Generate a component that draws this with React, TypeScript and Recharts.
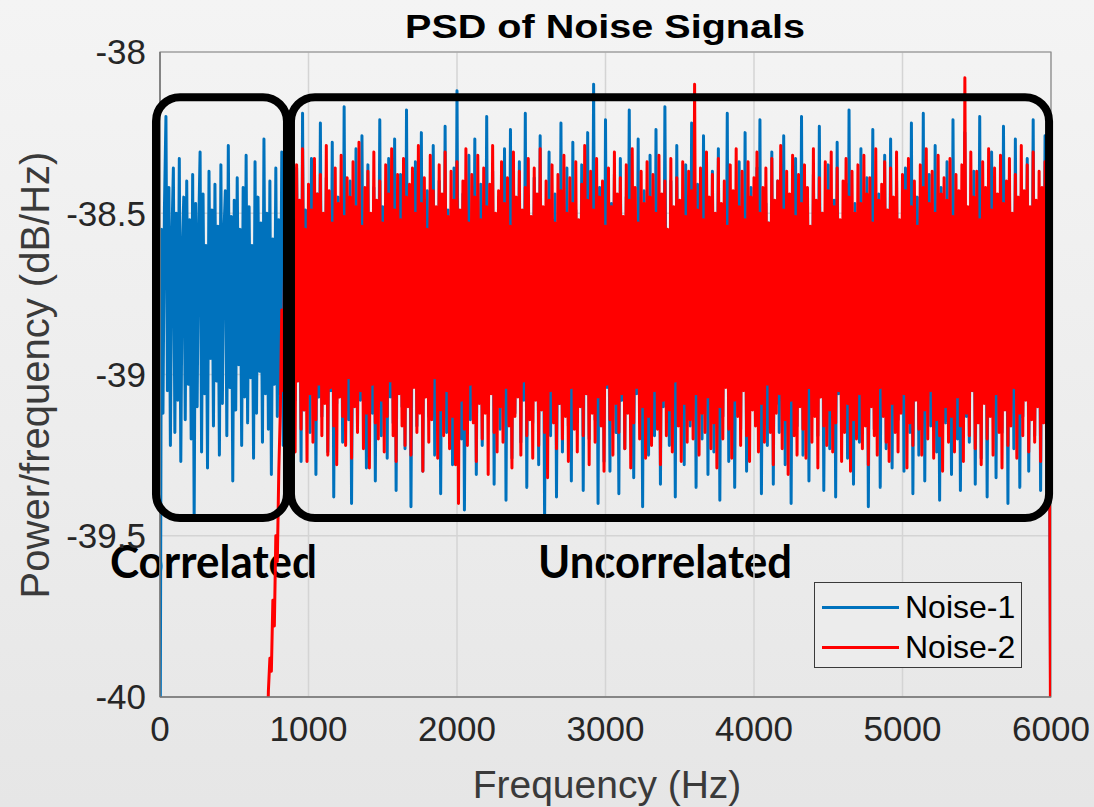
import React from 'react';
import { LineChart, Line, XAxis, YAxis, CartesianGrid, ReferenceArea, Legend } from 'recharts';

// ---- data ----
const xTicks = [0, 1000, 2000, 3000, 4000, 5000, 6000];
const yTicks = [-40, -39.5, -39, -38.5, -38];

const noise1StartHz = 0;
const noise1StepHz = 10;
const noise1Values = [
  -40.40, -38.55, -39.12, -38.48, -38.20, -39.05, -38.42, -39.22, -38.58, -38.36, -39.18, -38.50, -39.08, -38.33, -39.27, -38.62, -38.45, -39.14, -38.40, -39.03,
  -38.52, -39.20, -38.38, -39.45, -38.47, -39.10, -38.56, -38.31, -39.24, -38.44, -39.06, -38.60, -39.29, -38.37, -38.95, -38.49, -39.16, -38.41, -39.02, -38.54,
  -39.25, -38.35, -39.09, -38.57, -38.43, -39.19, -38.29, -39.04, -38.51, -39.33, -38.46, -39.11, -38.39, -38.97, -38.55, -39.22, -38.42, -39.07, -38.32, -39.15,
  -38.48, -39.01, -38.60, -39.26, -38.34, -39.12, -38.45, -38.99, -38.53, -39.21, -38.27, -39.06, -38.50, -39.17, -38.40, -39.31, -38.58, -39.03, -38.36, -39.13,
  -38.52, -39.06, -38.31, -39.22, -38.58, -39.03, -38.24, -39.15, -38.47, -39.35, -38.60, -39.08, -38.36, -39.01, -38.55, -39.27, -38.19, -39.11, -38.49, -39.04,
  -38.57, -39.18, -38.33, -39.02, -38.61, -39.31, -38.44, -39.07, -38.22, -39.13, -38.54, -39.00, -38.39, -39.24, -38.59, -39.05, -38.28, -39.38, -38.50, -39.09,
  -38.45, -39.03, -38.56, -39.21, -38.17, -39.06, -38.53, -39.14, -38.40, -39.40, -38.62, -39.02, -38.30, -39.17, -38.51, -39.08, -38.26, -39.01, -38.58, -39.29,
  -38.35, -39.05, -38.55, -39.12, -38.42, -39.33, -38.60, -39.04, -38.21, -39.19, -38.48, -39.02, -38.57, -39.26, -38.33, -39.07, -38.52, -39.15, -38.27, -39.36,
  -38.59, -39.03, -38.38, -39.10, -38.54, -39.23, -38.18, -39.06, -38.46, -39.41, -38.61, -39.01, -38.34, -39.16, -38.56, -39.08, -38.25, -39.30, -38.50, -39.04,
  -38.43, -39.13, -38.58, -39.02, -38.29, -39.25, -38.53, -39.07, -38.40, -39.37, -38.62, -39.05, -38.23, -39.18, -38.49, -39.01, -38.57, -39.28, -38.36, -39.09,
  -38.12, -39.04, -38.55, -39.20, -38.44, -39.42, -38.60, -39.06, -38.32, -39.14, -38.52, -39.02, -38.27, -39.31, -38.58, -39.08, -38.41, -39.22, -38.54, -39.03,
  -38.20, -39.11, -38.59, -39.05, -38.37, -39.34, -38.51, -39.02, -38.45, -39.17, -38.61, -39.07, -38.30, -39.39, -38.56, -39.04, -38.24, -39.26, -38.48, -39.12,
  -38.57, -39.02, -38.34, -39.21, -38.53, -39.08, -38.19, -39.35, -38.46, -39.03, -38.60, -39.15, -38.39, -39.06, -38.55, -39.28, -38.26, -39.01, -38.55, -39.45,
  -38.58, -39.05, -38.31, -39.19, -38.52, -39.02, -38.44, -39.38, -38.61, -39.09, -38.22, -39.24, -38.54, -39.04, -38.36, -39.16, -38.57, -39.33, -38.28, -39.07,
  -38.49, -39.12, -38.60, -39.03, -38.35, -39.36, -38.56, -39.06, -38.25, -39.20, -38.53, -39.01, -38.10, -39.14, -38.58, -39.40, -38.42, -39.05, -38.55, -39.27,
  -38.21, -39.04, -38.59, -39.30, -38.47, -39.02, -38.38, -39.18, -38.62, -39.37, -38.33, -39.08, -38.54, -39.23, -38.45, -39.01, -38.18, -39.13, -38.57, -39.32,
  -38.52, -39.06, -38.27, -39.15, -38.60, -39.41, -38.43, -39.03, -38.55, -39.25, -38.32, -39.07, -38.58, -39.19, -38.24, -39.02, -38.50, -39.34, -38.61, -39.10,
  -38.17, -39.03, -38.56, -39.22, -38.40, -39.05, -38.53, -39.38, -38.29, -39.12, -38.59, -39.01, -38.46, -39.28, -38.35, -39.06, -38.62, -39.16, -38.22, -39.04,
  -38.55, -39.35, -38.41, -39.07, -38.58, -39.20, -38.26, -39.02, -38.51, -39.31, -38.60, -39.09, -38.37, -39.24, -38.56, -39.04, -38.30, -39.39, -38.53, -39.13,
  -38.48, -39.02, -38.19, -39.27, -38.57, -39.08, -38.44, -39.35, -38.61, -39.05, -38.34, -39.17, -38.54, -39.01, -38.25, -39.30, -38.59, -39.11, -38.42, -39.06,
  -38.56, -39.14, -38.36, -39.03, -38.21, -39.37, -38.60, -39.07, -38.47, -39.22, -38.53, -39.02, -38.31, -39.34, -38.58, -39.09, -38.40, -39.18, -38.55, -39.04,
  -38.26, -39.28, -38.59, -39.05, -38.45, -39.40, -38.52, -39.01, -38.33, -39.16, -38.61, -39.08, -38.20, -39.25, -38.54, -39.03, -38.43, -39.33, -38.57, -39.12,
  -38.38, -39.04, -38.55, -39.19, -38.23, -39.02, -38.50, -39.36, -38.62, -39.07, -38.35, -39.23, -38.57, -39.01, -38.46, -39.38, -38.28, -39.06, -38.59, -39.15,
  -38.52, -39.03, -38.41, -39.26, -38.18, -39.09, -38.58, -39.34, -38.47, -39.02, -38.60, -39.21, -38.30, -39.05, -38.55, -39.13, -38.39, -39.41, -38.62, -39.04,
  -38.24, -39.17, -38.56, -39.02, -38.44, -39.35, -38.59, -39.06, -38.32, -39.23, -38.53, -39.01, -38.27, -39.29, -38.61, -39.08, -38.40, -39.14, -38.54, -39.03,
  -38.58, -39.30, -38.36, -39.05, -38.51, -39.18, -38.22, -39.37, -38.57, -39.02, -38.45, -39.25, -38.60, -39.07, -38.19, -39.33, -38.53, -39.04, -38.38, -39.16,
  -38.55, -39.03, -38.29, -39.24, -38.60, -39.39, -38.42, -39.06, -38.57, -39.15, -38.34, -39.01, -38.52, -39.31, -38.21, -39.08, -38.59, -39.20, -38.46, -39.36,
  -38.54, -39.02, -38.25, -39.13, -38.61, -39.21, -38.48, -39.05, -38.37, -39.34, -38.56, -39.09, -38.20, -39.26, -38.58, -39.03, -38.43, -39.38, -38.55, -39.11,
  -38.31, -39.04, -38.57, -39.32, -38.46, -39.07, -38.60, -39.18, -38.23, -39.02, -38.52, -39.40, -38.39, -39.06, -38.58, -39.23, -38.27, -39.05, -38.55, -39.35,
  -38.44, -39.13, -38.59, -39.03, -38.33, -39.30, -38.56, -39.08, -38.21, -39.19, -38.61, -39.02, -38.47, -39.36, -38.53, -39.10, -38.26, -39.05, -38.58, -39.24,
  -40.30,
];

const noise2StartHz = 700;
const noise2StepHz = 10;
const noise2Values = [
  -41.20, -40.60, -40.20, -39.98, -39.88, -39.92, -39.70, -39.78, -39.50, -39.58, -39.30, -39.12, -38.80, -39.05, -38.62, -39.15, -38.48, -39.20, -38.40,
  -39.08, -38.52, -39.24, -38.35, -39.02, -38.46, -39.17, -38.30, -39.11, -38.55, -39.27, -38.41, -39.06, -38.49, -39.21, -38.33, -39.14, -38.44, -39.03, -38.38,
  -39.19, -38.50, -39.09, -38.29, -39.25, -38.43, -39.04, -38.53, -39.16, -38.36, -39.28, -38.47, -39.07, -38.32, -39.13, -38.51, -39.22, -38.39, -39.01, -38.45,
  -39.26, -38.34, -39.10, -38.48, -39.18, -38.28, -39.05, -38.54, -39.23, -38.42, -39.12, -38.37, -39.29, -38.50, -39.03, -38.31, -39.15, -38.46, -39.20, -38.40,
  -39.08, -38.53, -39.24, -38.35, -39.13, -38.44, -39.02, -38.30, -39.19, -38.49, -39.27, -38.38, -39.06, -38.52, -39.16, -38.33, -39.22, -38.45, -39.10, -38.41,
  -39.25, -38.36, -39.04, -38.50, -39.18, -38.29, -39.12, -38.47, -39.30, -38.39, -39.07, -38.55, -39.21, -38.32, -39.14, -38.43, -39.01, -38.48, -39.26, -38.35,
  -39.11, -38.44, -39.19, -38.31, -39.05, -38.51, -39.23, -38.37, -39.13, -38.46, -39.28, -38.34, -39.40, -38.49, -39.08, -38.40, -39.17, -38.30, -39.22, -38.53,
  -39.03, -38.38, -39.15, -38.45, -39.27, -38.32, -39.09, -38.52, -39.20, -38.36, -39.12, -38.48, -39.31, -38.41, -39.06, -38.29, -39.18, -38.50, -39.24, -38.43,
  -39.10, -38.34, -39.21, -38.47, -39.04, -38.39, -39.16, -38.54, -39.29, -38.31, -39.13, -38.45, -39.07, -38.37, -39.25, -38.49, -39.02, -38.42, -39.19, -38.33,
  -39.14, -38.51, -39.26, -38.36, -39.08, -38.44, -39.22, -38.30, -39.11, -38.48, -39.18, -38.40, -39.32, -38.46, -39.05, -38.35, -39.15, -38.53, -39.23, -38.38,
  -39.09, -38.43, -39.20, -38.32, -39.13, -38.50, -39.27, -38.39, -39.04, -38.47, -39.17, -38.34, -39.24, -38.52, -39.10, -38.41, -39.19, -38.29, -39.06, -38.46,
  -39.28, -38.37, -39.12, -38.49, -39.21, -38.33, -39.07, -38.45, -39.16, -38.40, -39.30, -38.54, -39.03, -38.36, -39.14, -38.48, -39.25, -38.31, -39.09, -38.44,
  -39.18, -38.39, -39.06, -38.51, -39.23, -38.35, -39.12, -38.46, -39.29, -38.30, -39.15, -38.42, -39.04, -38.53, -39.20, -38.37, -39.10, -38.47, -39.26, -38.34,
  -39.13, -38.45, -39.22, -38.38, -39.05, -38.50, -39.17, -38.32, -39.28, -38.44, -39.08, -38.40, -39.19, -38.55, -39.11, -38.33, -39.24, -38.48, -39.02, -38.39,
  -39.16, -38.46, -39.27, -38.34, -39.09, -38.51, -39.21, -38.37, -39.14, -38.43, -39.20, -38.10, -39.06, -38.49, -39.25, -38.36, -39.12, -38.52, -39.18, -38.31, -39.07,
  -38.45, -39.23, -38.38, -39.15, -38.50, -39.29, -38.33, -39.10, -38.47, -39.20, -38.40, -39.04, -38.54, -39.17, -38.35, -39.26, -38.43, -39.08, -38.30, -39.13,
  -38.48, -39.22, -38.37, -39.05, -38.52, -39.19, -38.34, -39.27, -38.45, -39.11, -38.39, -39.16, -38.31, -39.24, -38.50, -39.09, -38.42, -39.21, -38.36, -39.03,
  -38.53, -39.18, -38.33, -39.28, -38.46, -39.12, -38.40, -39.06, -38.29, -39.23, -38.49, -39.14, -38.37, -39.31, -38.44, -39.08, -38.32, -39.19, -38.51, -39.25,
  -38.38, -39.10, -38.47, -39.17, -38.35, -39.26, -38.42, -39.04, -38.54, -39.21, -38.30, -39.13, -38.46, -39.29, -38.39, -39.07, -38.50, -39.16, -38.34, -39.22,
  -38.43, -39.11, -38.31, -39.24, -38.48, -39.15, -38.36, -39.05, -38.52, -39.27, -38.40, -39.18, -38.33, -39.09, -38.45, -39.30, -38.37, -39.14, -38.50, -39.20,
  -38.35, -39.06, -38.47, -39.23, -38.32, -39.16, -38.44, -39.28, -38.39, -39.10, -38.53, -39.19, -38.30, -39.25, -38.46, -39.04, -38.41, -39.13, -38.34, -39.21,
  -38.49, -39.27, -38.36, -39.09, -38.45, -39.18, -38.31, -39.24, -38.52, -39.12, -38.38, -39.06, -38.43, -39.29, -38.33, -39.15, -38.48, -39.22, -38.40, -39.08,
  -38.54, -39.17, -38.35, -39.25, -38.42, -39.11, -38.30, -39.20, -38.47, -39.05, -38.37, -39.26, -38.50, -39.14, -38.32, -39.19, -38.44, -39.30, -38.39, -39.10,
  -38.46, -39.21, -38.33, -39.13, -38.51, -39.24, -38.38, -39.07, -38.43, -39.16, -38.35, -39.27, -38.08, -39.12, -38.48, -39.19, -38.31, -39.05, -38.45, -39.23,
  -38.37, -39.15, -38.52, -39.28, -38.34, -39.09, -38.42, -39.20, -38.30, -39.13, -38.49, -39.25, -38.36, -39.06, -38.44, -39.18, -38.32, -39.29, -38.47, -39.11,
  -38.40, -39.22, -38.33, -39.16, -38.50, -39.04, -38.38, -39.26, -38.45, -39.12, -38.29, -39.19, -38.43, -39.08, -38.35, -39.24, -38.48, -39.14, -38.31, -39.21,
  -38.46, -39.10, -38.37, -39.27, -38.42, -39.15, -38.34, -39.20, -38.49, -39.12, -40.60,
];

const seriesNames = ['Noise-1', 'Noise-2'];
const seriesColors = ['#0072BD', '#FF0000'];

// annotation boxes in data coordinates
const boxCorrelated = { x1: -27, x2: 855, y1: -39.445, y2: -38.14 };
const boxUncorrelated = { x1: 882, x2: 5987, y1: -39.445, y2: -38.14 };

const noise1Data = noise1Values.map((v, i) => ({ f: noise1StartHz + i * noise1StepHz, v }));
const noise2Data = noise2Values.map((v, i) => ({ f: noise2StartHz + i * noise2StepHz, v }));

const FONT = "'Liberation Sans', Arial, Helvetica, sans-serif";

const RoundedBox = (props: any) => {
  const { x, y, width, height } = props;
  return (
    <rect x={x} y={y} width={width} height={height} rx={24} ry={24} fill="none" stroke="#000" strokeWidth={8} />
  );
};

const LegendBox = () => (
  <div
    style={{
      width: 208,
      height: 86,
      border: '1px solid #3a3a3a',
      background: '#ececec',
      boxSizing: 'border-box',
      fontFamily: FONT,
      fontSize: 32,
      color: '#000',
      paddingTop: 4,
    }}
  >
    {seriesNames.map((n, i) => (
      <div key={n} style={{ display: 'flex', alignItems: 'center', height: 40 }}>
        <div style={{ width: 77, height: 3, background: seriesColors[i], marginLeft: 7, marginRight: 6 }} />
        <span>{n}</span>
      </div>
    ))}
  </div>
);

export default function App() {
  return (
    <div
      style={{
        position: 'fixed',
        left: 0,
        top: 0,
        width: 1094,
        height: 807,
        overflow: 'hidden',
        background: 'linear-gradient(180deg, #f4f4f4 0%, #ececec 60%, #e6e6e6 100%)',
      }}
    >
      <svg width={1094} height={807} style={{ position: 'absolute', left: 0, top: 0 }}>
        <text x={605} y={38} textAnchor="middle" fontFamily={FONT} fontWeight="bold" fontSize={34} fill="#000" textLength={400} lengthAdjust="spacingAndGlyphs">
          PSD of Noise Signals
        </text>
        <text x={607} y={798} textAnchor="middle" fontFamily={FONT} fontSize={39} fill="#3a3a3a">
          Frequency (Hz)
        </text>
        <text transform="translate(49,375) rotate(-90)" textAnchor="middle" fontFamily={FONT} fontSize={40} fill="#3a3a3a">
          Power/frequency (dB/Hz)
        </text>
        <text x={110} y={578} fontFamily="Lato, 'Open Sans', sans-serif" fontWeight="bold" fontSize={46} fill="#000" textLength={207} lengthAdjust="spacingAndGlyphs">
          Correlated
        </text>
        <text x={538} y={578} fontFamily="Lato, 'Open Sans', sans-serif" fontWeight="bold" fontSize={46} fill="#000" textLength={254} lengthAdjust="spacingAndGlyphs">
          Uncorrelated
        </text>
      </svg>
      <div style={{ position: 'absolute', left: 0, top: 0 }}>
        <LineChart width={1094} height={807} margin={{ top: 52, right: 43, bottom: 0, left: 0 }}>
          <CartesianGrid stroke="#d4d4d4" strokeWidth={1.5} />
          <ReferenceArea x1={0} x2={6000} y1={-40} y2={-38} fill="none" stroke="#8c8c8c" strokeWidth={1.2} ifOverflow="visible" />
          <XAxis
            dataKey="f"
            type="number"
            domain={[0, 6000]}
            ticks={xTicks}
            allowDataOverflow
            height={110}
            tickLine={false}
            tickMargin={13}
            axisLine={{ stroke: '#777', strokeWidth: 1.5 }}
            tick={{ fill: '#262626', fontSize: 35, fontFamily: FONT }}
          />
          <YAxis
            type="number"
            domain={[-40, -38]}
            ticks={yTicks}
            allowDataOverflow
            width={160}
            tickLine={false}
            tickMargin={8}
            axisLine={{ stroke: '#777', strokeWidth: 1.5 }}
            tick={{ fill: '#262626', fontSize: 35, fontFamily: FONT }}
          />
          <Line
            data={noise1Data}
            dataKey="v"
            name={seriesNames[0]}
            stroke={seriesColors[0]}
            strokeWidth={3}
            dot={false}
            activeDot={false}
            isAnimationActive={false}
            strokeLinejoin="round"
          />
          <Line
            data={noise2Data}
            dataKey="v"
            name={seriesNames[1]}
            stroke={seriesColors[1]}
            strokeWidth={3}
            dot={false}
            activeDot={false}
            isAnimationActive={false}
            strokeLinejoin="round"
          />
          <ReferenceArea {...boxCorrelated} ifOverflow="visible" shape={RoundedBox} zIndex={1000} />
          <ReferenceArea {...boxUncorrelated} ifOverflow="visible" shape={RoundedBox} zIndex={1000} />
          <Legend
            layout="vertical"
            align="center"
            verticalAlign="middle"
            content={() => <LegendBox />}
            wrapperStyle={{ position: 'absolute', left: 814, top: 582, width: 210, height: 88 }}
          />
        </LineChart>
      </div>
    </div>
  );
}
